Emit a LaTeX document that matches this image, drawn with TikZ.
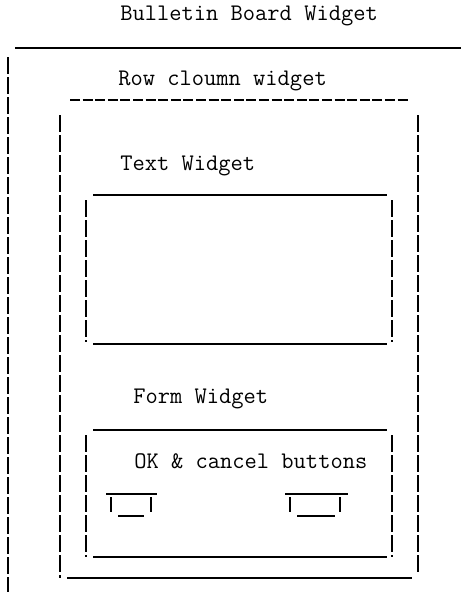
\documentclass[tikz,border=0pt]{standalone}
\usepackage{fontspec}
\begin{document}
\begin{tikzpicture}[x=0.5pt,y=-0.5pt,
  label/.style={anchor=base west,inner sep=0pt,font=\ttfamily\fontsize{11.9}{13}\selectfont},
  rule/.style={line width=0.6pt},
  heavyrule/.style={line width=0.85pt},
  bar/.style={line width=0.65pt,dash pattern=on 8.5pt off 1.5pt},
  dashrule/.style={line width=0.75pt,dash pattern=on 5pt off 1.3pt}]
\useasboundingbox (0,0) rectangle (461,596);

% texts
\node[label] (bb)   at (120,20)  {Bulletin Board Widget};
\node[label] (rc)   at (118,85)  {Row cloumn widget};
\node[label] (tw)   at (120,170) {Text Widget};
\node[label] (fw)   at (133,403) {Form Widget};
\node[label] (ok)   at (134,468) {OK \& cancel buttons};

% bulletin board frame
\draw[heavyrule] (15,48) -- (240,48);
\draw[rule] (240,48) -- (461,48);
\draw[bar] (8,57) -- (8,592);

% row column frame
\draw[dashrule] (70,100) -- (410,100);
\draw[bar] (60,115) -- (60,578);
\draw[bar] (418,115) -- (418,575);
\draw[rule] (67,578) -- (412,578);

% text widget frame
\draw[heavyrule] (93,195) -- (387,195);
\draw[bar] (86,200) -- (86,342);
\draw[bar] (392,200) -- (392,342);
\draw[rule] (93,344) -- (387,344);

% form widget frame
\draw[heavyrule] (93,430) -- (387,430);
\draw[bar] (86,435) -- (86,557);
\draw[bar] (392,435) -- (392,557);
\draw[rule] (93,557) -- (387,557);

% OK button
\draw[rule] (106,494) -- (157,494);
\draw[rule] (111,497) -- (111,512);
\draw[rule] (151,497) -- (151,512);
\draw[rule] (118,516) -- (144,516);

% cancel button
\draw[rule] (285,494) -- (348,494);
\draw[rule] (290,497) -- (290,512);
\draw[rule] (340,497) -- (340,512);
\draw[rule] (297,516) -- (335,516);
\end{tikzpicture}
\end{document}
